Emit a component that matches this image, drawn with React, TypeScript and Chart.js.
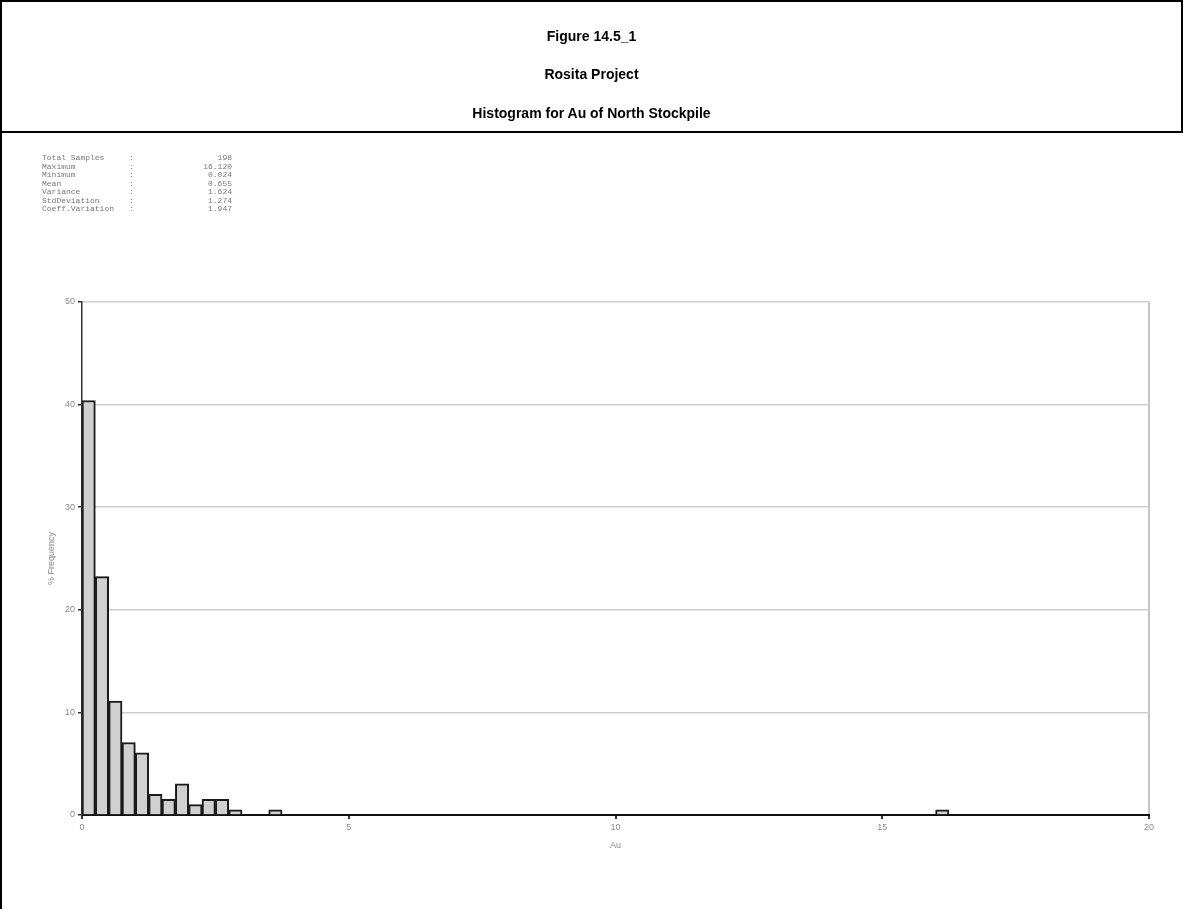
import React, { useEffect, useRef } from "react";
import { Chart, registerables } from "chart.js";

Chart.register(...registerables);

// ---- data ----
const titleLines = ["Figure 14.5_1", "Rosita Project", "Histogram for Au of North Stockpile"];
const statLabels = ["Total Samples", "Maximum", "Minimum", "Mean", "Variance", "StdDeviation", "Coeff.Variation"];
const statValues = ["198", "16.120", "0.024", "0.655", "1.624", "1.274", "1.947"];
const binCenters = [0.125, 0.375, 0.625, 0.875, 1.125, 1.375, 1.625, 1.875, 2.125, 2.375, 2.625, 2.875, 3.625, 16.125];
const frequencyPct = [40.4, 23.23, 11.11, 7.07, 6.06, 2.02, 1.52, 3.03, 1.01, 1.52, 1.52, 0.51, 0.51, 0.51];
const xTickValues = [0, 5, 10, 15, 20];
const yTickValues = [0, 10, 20, 30, 40, 50];
const xAxisTitle = "Au";
const yAxisTitle = "% Frequency";

const W = 1183;
const H = 909;

export default function App() {
  const canvasRef = useRef<HTMLCanvasElement | null>(null);

  useEffect(() => {
    document.body.style.margin = "0";
    const canvas = canvasRef.current;
    if (!canvas) return;
    const tickFont = { family: "'Liberation Sans', Arial, sans-serif", size: 9 };
    const chart = new Chart(canvas, {
      type: "bar",
      data: {
        datasets: [
          {
            data: binCenters.map((x, i) => ({ x, y: frequencyPct[i] })),
            backgroundColor: "#d0d0d0",
            borderColor: "#1a1a1a",
            borderWidth: 2,
            barPercentage: 1,
            categoryPercentage: 1,
            borderSkipped: "start",
          } as any,
        ],
      },
      options: {
        animation: false,
        responsive: false,
        events: [],
        layout: { padding: { left: 0, top: 302, right: 34, bottom: 0 } },
        plugins: { legend: { display: false }, tooltip: { enabled: false }, title: { display: false } },
        scales: {
          x: {
            type: "linear",
            min: 0,
            max: 20,
            offset: false,
            afterBuildTicks: (s: any) => {
              s.ticks = xTickValues.map((v) => ({ value: v }));
            },
            afterFit: (s: any) => {
              s.height = 94;
            },
            grid: {
              offset: false,
              drawOnChartArea: true,
              color: (c: any) => (c.tick && c.tick.value === 20 ? "#c4c4c4" : "rgba(0,0,0,0)"),
              lineWidth: 2,
              tickColor: "#333",
              tickLength: 4,
            },
            border: { color: "#111", width: 2 },
            ticks: { color: "#8a8a8a", font: tickFont, padding: 3, maxRotation: 0, autoSkip: false },
            title: {
              display: true,
              text: xAxisTitle,
              color: "#8a8a8a",
              font: tickFont,
              padding: { top: 0, bottom: 58 },
            },
          },
          y: {
            type: "linear",
            min: 0,
            max: 50,
            afterBuildTicks: (s: any) => {
              s.ticks = yTickValues.map((v) => ({ value: v }));
            },
            afterFit: (s: any) => {
              s.width = 82;
            },
            grid: {
              color: (c: any) => (c.tick && c.tick.value === 0 ? "rgba(0,0,0,0)" : "#cfcfcf"),
              lineWidth: 1.5,
              tickColor: "#333",
              tickLength: 4,
            },
            border: { color: "#333", width: 1.5 },
            ticks: { color: "#8a8a8a", font: tickFont, padding: 3 },
            title: {
              display: true,
              text: yAxisTitle,
              color: "#8a8a8a",
              font: tickFont,
              padding: { top: 46, bottom: 0 },
            },
          },
        },
      },
    });
    return () => chart.destroy();
  }, []);

  const titleTops = [28, 66, 105];

  return (
    <div style={{ position: "relative", width: W, height: H, background: "#fff", overflow: "hidden" }}>
      <canvas ref={canvasRef} width={W} height={H} style={{ position: "absolute", left: 0, top: 0, width: W, height: H }} />
      <div
        style={{
          position: "absolute",
          left: 0,
          top: 0,
          width: W,
          height: 133,
          border: "2px solid #000",
          boxSizing: "border-box",
        }}
      />
      <div style={{ position: "absolute", left: 0, top: 131, width: 2, height: H - 131, background: "#000" }} />
      {titleLines.map((t, i) => (
        <div
          key={t}
          style={{
            position: "absolute",
            left: 0,
            width: W,
            top: titleTops[i],
            textAlign: "center",
            font: "bold 14px 'Liberation Sans', Arial, sans-serif",
            lineHeight: "16px",
            color: "#000",
          }}
        >
          {t}
        </div>
      ))}
      {statLabels.map((l, i) => (
        <React.Fragment key={l}>
          <div
            style={{
              position: "absolute",
              left: 42,
              top: 154 + i * 8.5,
              font: "8px 'Liberation Mono', monospace",
              lineHeight: "8.5px",
              color: "#777",
              whiteSpace: "pre",
            }}
          >
            {l}
          </div>
          <div
            style={{
              position: "absolute",
              left: 129,
              top: 154 + i * 8.5,
              font: "8px 'Liberation Mono', monospace",
              lineHeight: "8.5px",
              color: "#777",
            }}
          >
            :
          </div>
          <div
            style={{
              position: "absolute",
              left: 172,
              width: 60,
              textAlign: "right",
              top: 154 + i * 8.5,
              font: "8px 'Liberation Mono', monospace",
              lineHeight: "8.5px",
              color: "#777",
            }}
          >
            {statValues[i]}
          </div>
        </React.Fragment>
      ))}
    </div>
  );
}
